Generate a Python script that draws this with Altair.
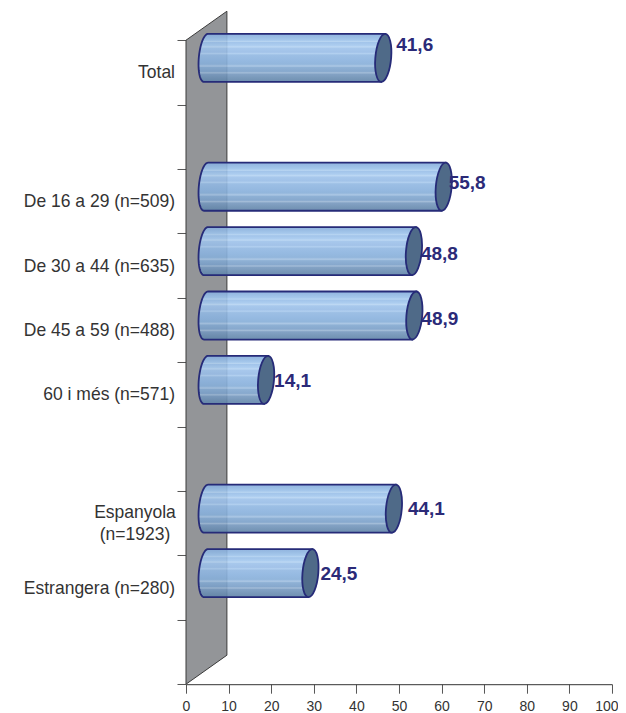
import math
import altair as alt
import pandas as pd

categories = ["Total", "De 16 a 29 (n=509)", "De 30 a 44 (n=635)", "De 45 a 59 (n=488)",
              "60 i més (n=571)", "Espanyola (n=1923)", "Estrangera (n=280)"]
values = [41.6, 55.8, 48.8, 48.9, 14.1, 44.1, 24.5]
bands = [0, 2, 3, 4, 5, 7, 8]
x_ticks = list(range(0, 101, 10))
y_ticks = list(range(0, 11))

DEPTH_X, DEPTH_Y = 9.6, 0.45       # 3D wall depth, in axis units
LIFT = 0.225                       # bars sit halfway into the wall
HALF = 0.373                       # half bar thickness in band units
RX, SKEW = 1.7, 0.47               # end-ellipse radius and lean, in x units
START = DEPTH_X / 2 - 0.1

x_scale = alt.Scale(domain=[0, 100], nice=False, zero=False, padding=0)
y_scale = alt.Scale(domain=[10, -0.5], nice=False, zero=False, padding=0)
x_axis = alt.Axis(values=x_ticks, title=None, grid=False, tickSize=9, labelFontSize=14,
                  labelFont="Liberation Sans", labelColor="#333333", tickColor="#555555",
                  domainColor="#333333", labelPadding=6, labelOverlap=False, labelFlush=False,
                  labelAlign=alt.expr("datum.value == 100 ? 'right' : 'center'"),
                  labelOffset=alt.expr("datum.value == 100 ? 6 : 0"))
y_axis = alt.Axis(values=y_ticks, title=None, grid=False, labels=False, domain=False,
                  tickSize=9, tickColor="#555555")
X = lambda f, **k: alt.X(f, type="quantitative", scale=x_scale, axis=x_axis, **k)
Y = lambda f, **k: alt.Y(f, type="quantitative", scale=y_scale, axis=y_axis, **k)

# wall
wall_df = pd.DataFrame({"x": [0, DEPTH_X], "y": [0, -DEPTH_Y], "y2": [10, 10 - DEPTH_Y]})
wall = alt.Chart(wall_df).mark_area(color="#939598", orient="vertical").encode(
    X("x"), Y("y"), y2="y2")
edges = pd.DataFrame({
    "x": [0, 0, DEPTH_X, DEPTH_X, 0],
    "y": [10, 0, -DEPTH_Y, 10 - DEPTH_Y, 10],
})
edges["o"] = range(len(edges))
outline = alt.Chart(edges).mark_line(color="#3a3a3a", strokeWidth=1).encode(
    X("x"), Y("y"), order="o:Q")

# cylinder bodies
rows = []
for cat, val, band in zip(categories, values, bands):
    cy = band + 0.5 - LIFT
    for i in range(41):
        t = math.cos(math.pi * i / 40)
        rows.append({"cat": cat, "y": cy + t * HALF,
                     "x": START - SKEW * t - RX * math.sqrt(max(0, 1 - t * t)),
                     "x2": START + val - SKEW * t})
body_df = pd.DataFrame(rows)
stops = [(0, "#86acdc"), (0.07, "#90b7e2"), (0.13, "#9cc2ea"), (0.16, "#b0d0f0"), (0.18, "#98bee8"),
         (0.24, "#a4c8ee"), (0.27, "#b6d4f2"), (0.3, "#9ec2ea"), (0.38, "#98bce6"), (0.41, "#aacbee"),
         (0.44, "#92b8e2"), (0.55, "#8ab2de"), (0.63, "#86aed8"), (0.67, "#a4c2e2"), (0.7, "#82a8d0"),
         (0.78, "#7a9fc8"), (0.81, "#9ab6d4"), (0.84, "#7698be"), (0.92, "#6a8db2"), (1, "#5f84a8")]
grad = alt.LinearGradient(gradient="linear", x1=0, y1=0, x2=0, y2=1,
                          stops=[alt.GradientStop(color=c, offset=o) for o, c in stops])
body = alt.Chart(body_df).mark_area(color=grad, orient="horizontal", stroke="#262b78", strokeWidth=1.8,
                                    fillOpacity=0.9).encode(
    X("x"), Y("y"), x2="x2", detail="cat:N")

# end caps
k, a, s = 0.5523, 0.33, 0.08
ELLIPSE = (f"M{s},-1 C{s + k * a},-1 {a + k * s},{-k} {a},0 "
           f"C{a - k * s},{k} {-s + k * a},1 {-s},1 "
           f"C{-s - k * a},1 {-a - k * s},{k} {-a},0 "
           f"C{-a + k * s},{-k} {s - k * a},-1 {s},-1 Z")
cap_df = pd.DataFrame({"cat": categories, "val": values, "band": bands})
cap_df["x"] = START + cap_df["val"]
cap_df["y"] = cap_df["band"] + 0.5 - LIFT
cap_df["mid"] = cap_df["band"] + 0.5
cap = alt.Chart(cap_df).mark_point(shape=ELLIPSE, filled=True, fill="#4f6a88", stroke="#262b78",
                                   strokeWidth=1.8, opacity=1, size=2304).encode(
    X("x"), Y("y"))

# value labels (hand-placed nudges as in the reference)
nudges = {"Total": (13, -13), "De 16 a 29 (n=509)": (5, -4), "De 30 a 44 (n=635)": (7, 3),
          "De 45 a 59 (n=488)": (7, 3), "60 i més (n=571)": (8, 1), "Espanyola (n=1923)": (14, 0),
          "Estrangera (n=280)": (10, 1)}
val_layers = []
for _, r in cap_df.iterrows():
    dx, dy = nudges[r["cat"]]
    d = pd.DataFrame({"x": [r["x"]], "y": [r["y"]], "t": [f"{r['val']:.1f}".replace(".", ",")]})
    val_layers.append(alt.Chart(d).mark_text(align="left", baseline="middle", dx=dx, dy=dy, fontSize=19,
                                             fontWeight="bold", font="Liberation Sans", color="#2b2a78").encode(
        X("x"), Y("y"), text="t:N"))

# category labels
single = cap_df[cap_df["cat"] != "Espanyola (n=1923)"]
cat_text = alt.Chart(single).mark_text(align="right", baseline="middle", fontSize=17.5, dy=1,
                                       font="Liberation Sans", color="#333333").encode(
    x=alt.value(-11), y=Y("mid"), text="cat:N")
two = pd.DataFrame({"mid": [7.5], "t": [["Espanyola", "(n=1923)"]]})
two_text = alt.Chart(two).mark_text(align="center", baseline="middle", fontSize=17.5, dy=-10,
                                    font="Liberation Sans", color="#333333", lineHeight=22).encode(
    x=alt.value(-51), y=Y("mid"), text="t")

chart = alt.layer(wall, outline, body, cap, *val_layers, cat_text, two_text).properties(
    width=426, height=676.2,
    autosize=alt.AutoSizeParams(type="none"),
    padding={"left": 178, "top": 0, "right": 6, "bottom": 29},
    background="white",
).configure_view(stroke=None)

chart.save("out.html", embed_options={"renderer": "svg", "actions": False})
